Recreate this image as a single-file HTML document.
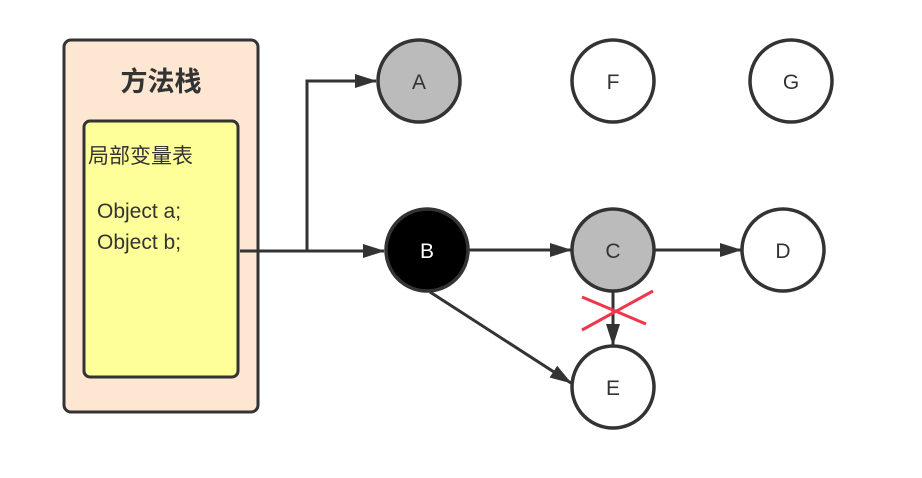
<!DOCTYPE html>
<html><head><meta charset="utf-8"><style>
html,body{margin:0;padding:0;background:#fff;width:922px;height:478px;overflow:hidden}
</style></head><body>
<svg width="922" height="478" viewBox="0 0 922 478" xmlns="http://www.w3.org/2000/svg">
<defs><marker id="ar" markerWidth="10" markerHeight="8" refX="9" refY="4" orient="auto" markerUnits="userSpaceOnUse" viewBox="0 0 10 8"><path d="M0,0 L10,4 L0,8 Z" fill="#333"/></marker>
<marker id="ar2" markerWidth="22" markerHeight="14" refX="21" refY="7" orient="auto" markerUnits="userSpaceOnUse" viewBox="0 0 22 14"><path d="M0,0 L22,7 L0,14 Z" fill="#333"/></marker></defs>
<rect x="64" y="40" width="194" height="372" rx="7" fill="#fde6d2" stroke="#333" stroke-width="3"/>
<text x="161" y="91" text-anchor="middle" font-family="Liberation Sans, Noto Sans CJK SC, sans-serif" font-size="27" font-weight="bold" fill="#333">方法栈</text>
<rect x="84" y="121" width="154" height="256" rx="6" fill="#ffff99" stroke="#333" stroke-width="3"/>
<text x="88" y="163" font-family="Liberation Sans, Noto Sans CJK SC, sans-serif" font-size="21" fill="#333">局部变量表</text>
<text x="97" y="218" font-family="Liberation Sans, sans-serif" font-size="21" fill="#333">Object a;</text>
<text x="97" y="249" font-family="Liberation Sans, sans-serif" font-size="21" fill="#333">Object b;</text>
<g stroke="#333" stroke-width="3" fill="none">
<path d="M240 251 H384" marker-end="url(#ar2)"/>
<path d="M307 251 V81 H376" marker-end="url(#ar2)"/>
<path d="M468 250 H571" marker-end="url(#ar2)"/>
<path d="M654 250 H741" marker-end="url(#ar2)"/>
<path d="M613 291 V345" marker-end="url(#ar2)"/>
<path d="M430 292 L571 383" marker-end="url(#ar2)"/>
</g>
<g stroke="#333" stroke-width="3.5">
<circle cx="419" cy="81" r="41" fill="#bbb"/>
<circle cx="613" cy="81" r="41" fill="#fff"/>
<circle cx="791" cy="81" r="41" fill="#fff"/>
<circle cx="427" cy="250" r="41" fill="#000"/>
<circle cx="613" cy="250" r="41" fill="#bbb"/>
<circle cx="783" cy="250" r="41" fill="#fff"/>
<circle cx="613" cy="387" r="41" fill="#fff"/>
</g>
<g stroke="#f0364a" stroke-width="3">
<line x1="582" y1="297" x2="646" y2="324"/>
<line x1="653" y1="291" x2="582" y2="330"/>
</g>
<g font-family="Liberation Sans, sans-serif" font-size="21" text-anchor="middle" fill="#333">
<text x="419" y="89">A</text><text x="613" y="89">F</text><text x="791" y="89">G</text>
<text x="427" y="258" fill="#fff">B</text><text x="613" y="258">C</text><text x="783" y="258">D</text><text x="613" y="395">E</text>
</g>
</svg>
</body></html>
